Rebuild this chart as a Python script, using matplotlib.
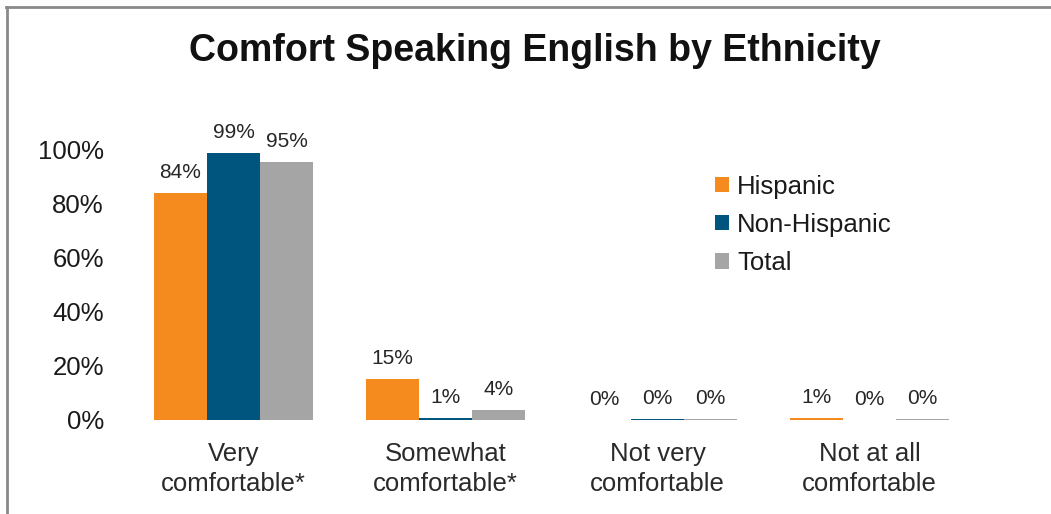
import matplotlib
matplotlib.use("Agg")
import matplotlib.pyplot as plt
from matplotlib.lines import Line2D
from matplotlib.patches import Patch

plt.rcParams['font.family'] = ['Liberation Sans', 'DejaVu Sans']

categories = ["Very\ncomfortable*", "Somewhat\ncomfortable*", "Not very\ncomfortable", "Not at all\ncomfortable"]
series_names = ["Hispanic", "Non-Hispanic", "Total"]
hispanic = [84.0, 15.2, 0.0, 0.8]
non_hispanic = [99.0, 0.6, 0.3, 0.0]
total = [95.4, 3.7, 0.3, 0.3]
colors = ["#F58A1F", "#00557F", "#A5A5A5"]
yticks = [0, 20, 40, 60, 80, 100]

text_color = "#1a1a1a"

fig = plt.figure(figsize=(10.51, 5.14), dpi=100)
ax = fig.add_axes([0.1213, 0.1829, 0.8069, 0.5778])

width = 0.25
for j, (vals, name, col) in enumerate(zip([hispanic, non_hispanic, total], series_names, colors)):
    xs = [i + (j - 1) * width for i in range(len(categories))]
    ax.bar(xs, vals, width=width, color=col, label=name, linewidth=0)
    for x, v in zip(xs, vals):
        ax.annotate(f"{round(v):d}%", (x, v), xytext=(0, 8), textcoords="offset points",
                    ha="center", va="bottom", fontsize=15, color="#262626")

ax.set_xlim(-0.5, 3.5)
ax.set_ylim(0, 110)
ax.set_yticks(yticks)
ax.set_yticklabels([f"{t}%" for t in yticks], fontsize=18.5, color=text_color)
ax.set_xticks(range(len(categories)))
ax.set_xticklabels(categories, fontsize=18.5, color="#2a2a2a", linespacing=1.32)
ax.tick_params(axis="both", length=0)
ax.tick_params(axis="y", pad=17)
ax.tick_params(axis="x", pad=16)
for s in ax.spines.values():
    s.set_visible(False)

handles = [Patch(facecolor=c, edgecolor="none") for c in colors]
ax.legend(handles, series_names, loc="upper left", bbox_to_anchor=(0.693, 0.826),
          frameon=False, fontsize=18.5, handlelength=0.55, handleheight=0.55,
          handletextpad=0.3, labelspacing=0.55, borderaxespad=0, borderpad=0,
          labelcolor=text_color)

fig.text(0.509, 0.9008, "Comfort Speaking English by Ethnicity", ha="center", va="center",
         fontsize=27, fontweight="bold", color="#111111")

# outer frame: top and left edges
fig.add_artist(Line2D([6 / 1051, 1.0], [1 - 7 / 514, 1 - 7 / 514], transform=fig.transFigure,
                      color="#8a8a8a", linewidth=2))
fig.add_artist(Line2D([7 / 1051, 7 / 1051], [0.0, 1 - 7 / 514], transform=fig.transFigure,
                      color="#8a8a8a", linewidth=2))

fig.savefig("out.png", dpi=100, facecolor="white")
